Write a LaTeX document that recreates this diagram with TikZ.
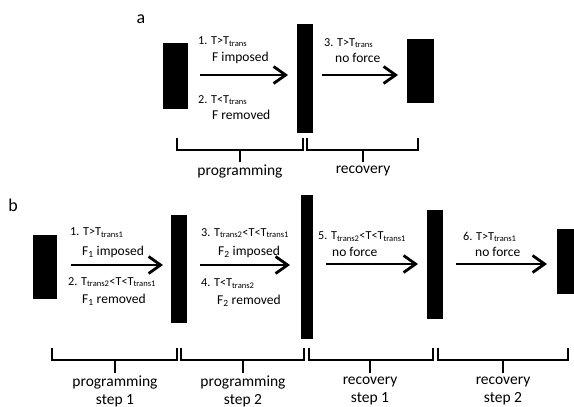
\documentclass[tikz,border=0pt]{standalone}
\usepackage{fontspec}
\setmainfont{Carlito}
\usetikzlibrary{arrows.meta}
\newcommand{\Ttr}[1]{T\textsubscript{trans#1}}

\begin{document}
\begin{tikzpicture}[x=1pt,y=-1pt,>={Straight Barb[length=12pt,width=17pt]},
  barbox/.style={fill=black,inner sep=0pt},
  flow/.style={->,line width=2.8pt},
  brace/.style={line width=1.7pt},
  cond/.style={anchor=west,inner sep=0pt,font=\fontsize{12.2}{14}\selectfont},
  force/.style={anchor=west,inner sep=0pt,font=\fontsize{13.5}{15}\selectfont},
  stage/.style={align=center,inner sep=0pt,font=\fontsize{15.5}{18}\selectfont},
  panel/.style={inner sep=0pt,font=\fontsize{18}{20}\selectfont}]
  \useasboundingbox (0,0) rectangle (574,407);

  % Panel a: samples
  \node[panel] (pa) at (141,19) {a};
  \node[barbox,minimum width=25pt,minimum height=66pt] (a1) at (175.5,76) {};
  \node[barbox,minimum width=16pt,minimum height=109pt] (a2) at (305,78.5) {};
  \node[barbox,minimum width=27pt,minimum height=64pt] (a3) at (420.5,71) {};
  % Panel a: steps
  \coordinate (a1s) at (200,75);
  \coordinate (a1e) at (288,75);
  \coordinate (a2s) at (322,75);
  \coordinate (a2e) at (398,75);
  \draw[flow] (a1s) -- (a1e);
  \draw[flow] (a2s) -- (a2e);
  \node[cond] (ta1) at (198,42) {1. T>\Ttr{}};
  \node[force] (fa1) at (212,58) {F imposed};
  \node[cond] (ta2) at (198,100) {2. T<\Ttr{}};
  \node[force] (fa2) at (212,115) {F removed};
  \node[cond] (ta3) at (324,43) {3. T>\Ttr{}};
  \node[force] (fa3) at (335,58) {no force};
  % Panel a: brackets
  \draw[brace] (177,138) |- (303,150) -- (303,138);
  \draw[brace] (240,150) -- (240,162);
  \draw[brace] (307,138) |- (418,150) -- (418,138);
  \draw[brace] (363,150) -- (363,162);
  \node[stage] (sa1) at (240,171) {programming};
  \node[stage] (sa2) at (363,171) {recovery};

  % Panel b: samples
  \node[panel] (pb) at (13,205) {b};
  \node[barbox,minimum width=24pt,minimum height=64pt] (b1) at (45,267) {};
  \node[barbox,minimum width=16pt,minimum height=108pt] (b2) at (179,269) {};
  \node[barbox,minimum width=12pt,minimum height=144pt] (b3) at (307,267) {};
  \node[barbox,minimum width=16pt,minimum height=109pt] (b4) at (435,264.5) {};
  \node[barbox,minimum width=24pt,minimum height=65pt] (b5) at (569,261.5) {};
  % Panel b: steps
  \coordinate (b1s) at (71,265);
  \coordinate (b1e) at (163,265);
  \coordinate (b2s) at (200,265);
  \coordinate (b2e) at (290,265);
  \coordinate (b3s) at (326,264);
  \coordinate (b3e) at (418,264);
  \coordinate (b4s) at (456,264);
  \coordinate (b4e) at (547,264);
  \draw[flow] (b1s) -- (b1e);
  \draw[flow] (b2s) -- (b2e);
  \draw[flow] (b3s) -- (b3e);
  \draw[flow] (b4s) -- (b4e);
  \node[cond] (tb1) at (70,233) {1. T>\Ttr{1}};
  \node[force] (fb1) at (82,252) {F\textsubscript{1} imposed};
  \node[cond] (tb2) at (68,282) {2. \Ttr{2}<T<\Ttr{1}};
  \node[force] (fb2) at (82,300) {F\textsubscript{1} removed};
  \node[cond] (tb3) at (201,233) {3. \Ttr{2}<T<\Ttr{1}};
  \node[force] (fb3) at (218,252) {F\textsubscript{2} imposed};
  \node[cond] (tb4) at (201,284) {4. T<\Ttr{2}};
  \node[force] (fb4) at (217,301) {F\textsubscript{2} removed};
  \node[cond] (tb5) at (318,237) {5. \Ttr{2}<T<\Ttr{1}};
  \node[force] (fb5) at (332,252) {no force};
  \node[cond] (tb6) at (463,237) {6. T>\Ttr{1}};
  \node[force] (fb6) at (475,252) {no force};
  % Panel b: brackets
  \draw[brace] (52,348) |- (177,360) -- (177,348);
  \draw[brace] (115,360) -- (115,373);
  \draw[brace] (181,348) |- (304,360) -- (304,348);
  \draw[brace] (243,360) -- (243,373);
  \draw[brace] (309,348) |- (433,360) -- (433,348);
  \draw[brace] (370,360) -- (370,373);
  \draw[brace] (438,348) |- (568,360) -- (568,348);
  \draw[brace] (503,360) -- (503,373);
  \node[stage] (sb1) at (115,391) {programming\\step 1};
  \node[stage] (sb2) at (243,391) {programming\\step 2};
  \node[stage] (sb3) at (370,391) {recovery\\step 1};
  \node[stage] (sb4) at (503,391) {recovery\\step 2};
\end{tikzpicture}
\end{document}
